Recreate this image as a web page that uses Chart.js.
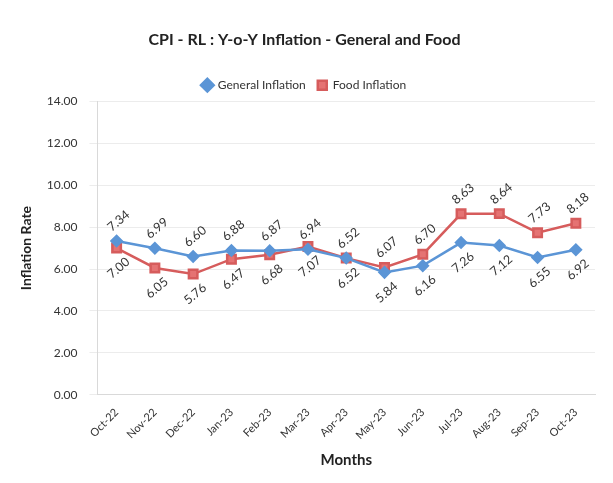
<!DOCTYPE html>
<html>
<head>
<meta charset="utf-8">
<script src="https://cdn.jsdelivr.net/npm/chart.js@4.4.0/dist/chart.umd.min.js"></script>
<style>
  html, body { margin: 0; padding: 0; background: #fff; }
  #wrap { width: 613px; height: 483px; }
</style>
</head>
<body>
<div id="wrap"><canvas id="myChart" width="613" height="483"></canvas></div>
<script>
const months = ["Oct-22", "Nov-22", "Dec-22", "Jan-23", "Feb-23", "Mar-23", "Apr-23",
  "May-23", "Jun-23", "Jul-23", "Aug-23", "Sep-23", "Oct-23"];
const generalInflation = [7.34, 6.99, 6.60, 6.88, 6.87, 6.94, 6.52, 5.84, 6.16, 7.26, 7.12, 6.55, 6.92];
const foodInflation = [7.00, 6.05, 5.76, 6.47, 6.68, 7.07, 6.52, 6.07, 6.70, 8.63, 8.64, 7.73, 8.18];
// label placement: true = above the point
const generalAbove = [true, true, true, true, true, true, true, false, false, false, false, false, false];
const foodAbove = [false, false, false, false, false, false, false, true, true, true, true, true, true];

const fontFamily = "Lato, 'Open Sans', sans-serif";

// draws the rotated value labels next to each point
const valueLabels = {
  id: "valueLabels",
  afterDatasetsDraw: (chart) => {
    const ctx = chart.ctx;
    const placement = [generalAbove, foodAbove];
    chart.data.datasets.forEach((ds, i) => {
      const meta = chart.getDatasetMeta(i);
      meta.data.forEach((pt, j) => {
        const above = placement[i][j];
        const dy = above ? -20 : 20;
        ctx.save();
        ctx.translate(pt.x + 2, pt.y + dy);
        ctx.rotate(-40 * Math.PI / 180);
        ctx.font = "12.5px " + fontFamily;
        ctx.fillStyle = "#333";
        ctx.textAlign = "center";
        ctx.textBaseline = "middle";
        ctx.fillText(ds.data[j].toFixed(2), 0, 0);
        ctx.restore();
      });
    });
  },
};

const data = {
  labels: months,
  datasets: [
    {
      label: "General Inflation",
      data: generalInflation,
      borderColor: "#5b95d6",
      backgroundColor: "#5b95d6",
      borderWidth: 2.5,
      pointStyle: "rectRot",
      pointRadius: 5,
      pointHoverRadius: 5,
      tension: 0,
    },
    {
      label: "Food Inflation",
      data: foodInflation,
      borderColor: "#d65c5c",
      backgroundColor: "#e57373",
      borderWidth: 2.5,
      pointStyle: "rect",
      pointRadius: 6,
      pointHoverRadius: 6,
      tension: 0,
    },
  ],
};

const config = {
  type: "line",
  data: data,
  plugins: [valueLabels],
  options: {
    responsive: false,
    animation: false,
    layout: {
      padding: { left: 14, right: 18, top: 30, bottom: 10 },
    },
    plugins: {
      title: {
        display: true,
        text: "CPI - RL : Y-o-Y Inflation - General and Food",
        color: "#222",
        font: { family: fontFamily, size: 16, weight: "bold" },
        padding: { top: 0, bottom: 18 },
      },
      legend: {
        display: true,
        labels: {
          usePointStyle: true,
          boxWidth: 9,
          boxHeight: 9,
          color: "#333",
          font: { family: fontFamily, size: 12 },
          padding: 12,
        },
      },
      tooltip: { enabled: false },
    },
    scales: {
      x: {
        offset: true,
        grid: { display: false },
        border: { color: "#d9d9d9" },
        ticks: {
          color: "#333",
          minRotation: 45,
          maxRotation: 45,
          font: { family: fontFamily, size: 11 },
        },
        title: {
          display: true,
          text: "Months",
          color: "#222",
          font: { family: fontFamily, size: 15, weight: "bold" },
          padding: { top: 6 },
        },
      },
      y: {
        min: 0,
        max: 14,
        ticks: {
          stepSize: 2,
          color: "#333",
          padding: 12,
          font: { family: fontFamily, size: 12 },
          callback: (v) => v.toFixed(2),
        },
        grid: { color: "#ececec" },
        border: { color: "#d9d9d9" },
        title: {
          display: true,
          text: "Inflation Rate",
          color: "#222",
          font: { family: fontFamily, size: 14, weight: "bold" },
          padding: { bottom: 0 },
        },
      },
    },
  },
};

const myChart = new Chart(document.getElementById("myChart"), config);
</script>
</body>
</html>
